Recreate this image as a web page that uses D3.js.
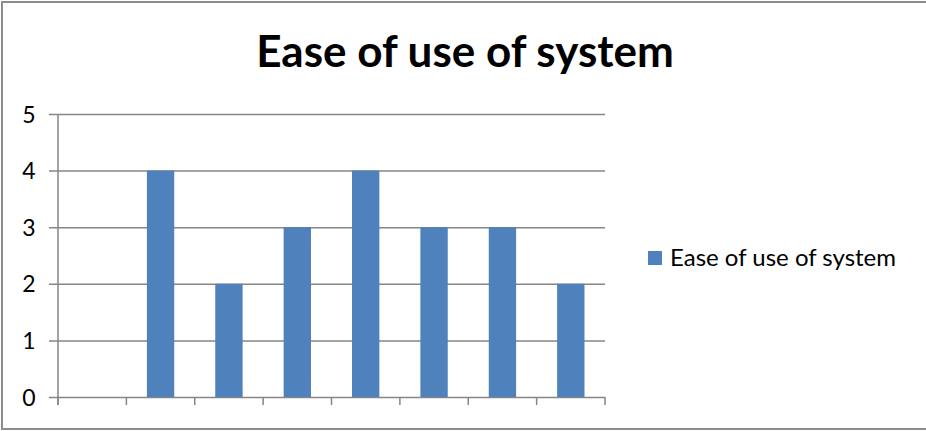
<!DOCTYPE html>
<html>
<head>
<meta charset="utf-8">
<script src="https://cdn.jsdelivr.net/npm/d3@7"></script>
<style>
  html, body { margin: 0; padding: 0; background: #fff; }
  svg { display: block; }
</style>
</head>
<body>
<svg id="chart" width="926" height="431"></svg>
<script>
// Chart data
const title = "Ease of use of system";
const seriesName = "Ease of use of system";
const categories = ["c1", "c2", "c3", "c4", "c5", "c6", "c7", "c8"];
const values = [null, 4, 2, 3, 4, 3, 3, 2];
const yTicks = [0, 1, 2, 3, 4, 5];

const svg = d3.select("#chart");
const W = 926, H = 431;
const font = "Lato, 'Open Sans', sans-serif";
const gridColor = "#868686";
const barColor = "#4f81bd";

// Outer frame
svg.append("rect")
  .attr("x", 2).attr("y", 2)
  .attr("width", W + 10).attr("height", H - 4)
  .attr("fill", "#fff")
  .attr("stroke", "#8c8c8c").attr("stroke-width", 2);

const plot = { left: 58, right: 605, top: 114, bottom: 397 };

const x = d3.scaleBand()
  .domain(categories)
  .range([plot.left, plot.right])
  .paddingInner(0.6).paddingOuter(0.3);

const xBand = d3.scaleBand()
  .domain(categories)
  .range([plot.left, plot.right]);

const y = d3.scaleLinear().domain([0, 5]).range([plot.bottom, plot.top]);

// Horizontal gridlines + y axis
const yAxis = d3.axisLeft(y)
  .tickValues(yTicks)
  .tickSize(-(plot.right - plot.left))
  .tickPadding(0)
  .tickFormat(d3.format("d"));

const gy = svg.append("g")
  .attr("transform", `translate(${plot.left},0)`)
  .call(yAxis);
gy.select(".domain").remove();
gy.selectAll(".tick line").attr("stroke", gridColor).attr("stroke-width", 1.5)
  .attr("x1", -9);
gy.selectAll(".tick text")
  .attr("x", -29)
  .attr("dy", "0.35em")
  .attr("text-anchor", "middle")
  .attr("font-family", font)
  .attr("font-size", 23)
  .attr("fill", "#000");

// Vertical axis line
svg.append("line")
  .attr("x1", plot.left).attr("x2", plot.left)
  .attr("y1", plot.top).attr("y2", plot.bottom + 8)
  .attr("stroke", gridColor).attr("stroke-width", 1.5);

// Bars
svg.append("g").selectAll("rect")
  .data(categories.map((c, i) => ({ c, v: values[i] })).filter(d => d.v != null))
  .join("rect")
  .attr("x", d => x(d.c))
  .attr("y", d => y(d.v))
  .attr("width", x.bandwidth())
  .attr("height", d => y(0) - y(d.v))
  .attr("fill", barColor);

// Category tick marks at band boundaries
const boundaries = categories.map(c => xBand(c)).concat([plot.right]);
svg.append("g").selectAll("line")
  .data(boundaries)
  .join("line")
  .attr("x1", d => d).attr("x2", d => d)
  .attr("y1", plot.bottom).attr("y2", plot.bottom + 8)
  .attr("stroke", gridColor).attr("stroke-width", 1.5);

// Title
svg.append("text")
  .attr("x", 465).attr("y", 67)
  .attr("text-anchor", "middle")
  .attr("font-family", font)
  .attr("font-weight", "bold")
  .attr("font-size", 44)
  .attr("fill", "#000")
  .text(title);

// Legend
const lg = svg.append("g").attr("transform", "translate(648,251)");
lg.append("rect").attr("width", 14).attr("height", 14).attr("fill", barColor);
lg.append("text")
  .attr("x", 22).attr("y", 7).attr("dy", "0.35em")
  .attr("font-family", font)
  .attr("font-size", 24)
  .attr("fill", "#000")
  .text(seriesName);
</script>
</body>
</html>
